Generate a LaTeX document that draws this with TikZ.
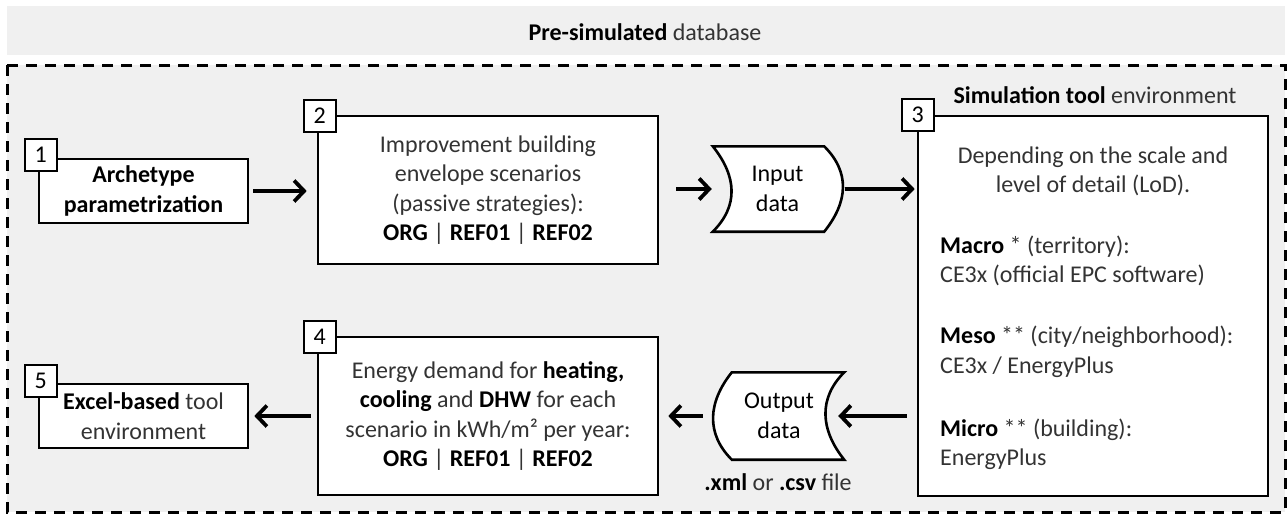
\documentclass[tikz,border=0pt]{standalone}
\usepackage{fontspec}
\setmainfont{Carlito}
\usetikzlibrary{arrows.meta}
\definecolor{panel}{HTML}{F0F0F0}
\definecolor{txt}{HTML}{333333}
\newcommand\hb[1]{\textbf{\color{black}#1}}
\pgfdeclarelayer{bg}
\pgfdeclarelayer{mid}
\pgfsetlayers{bg,mid,main}
\begin{document}
\begin{tikzpicture}[x=1pt,y=-1pt,
  every node/.style={font=\fontsize{24}{29.5}\selectfont, text=txt},
  box/.style={draw, line width=2.6pt, fill=white, inner sep=0pt, align=center},
  tag/.style={draw, line width=2pt, fill=white, minimum size=32pt, inner sep=0pt, text=black},
  datashape/.style={draw, line width=2.6pt, fill=white},
  datatext/.style={inner sep=0pt, align=center, text=black},
  arr/.style={line width=3.8pt, -{Straight Barb[length=10pt,width=21pt]}},
  frame/.style={draw, line width=3pt, dash pattern=on 11pt off 8pt, fill=panel}]
\useasboundingbox (0,0) rectangle (1288,515);

% grey header band and dashed database frame
\begin{pgfonlayer}{bg}
  \fill[white] (0,0) rectangle (1288,515);
  \fill[panel] (7,6) rectangle (1285,55);
  \path[frame] (7,65) rectangle (1285,512);
\end{pgfonlayer}
\node (title) at (645,32) {\hb{Pre-simulated} database};

% process boxes
\node[box, minimum width=209pt, minimum height=64pt] (b1) at (143.5,191)
  {\hb{Archetype}\\\hb{parametrization}};
\node[box, minimum width=340pt, minimum height=148pt] (b2) at (488,190)
  {Improvement building\\envelope scenarios\\(passive strategies):\\\hb{ORG} | \hb{REF01} | \hb{REF02}};
\node[box, minimum width=350pt, minimum height=380pt] (b3) at (1093,306) {};
\node[box, minimum width=340pt, minimum height=158pt] (b4) at (488,416)
  {Energy demand for \hb{heating,}\\\hb{cooling} and \hb{DHW} for each\\scenario in kWh/m² per year:\\\hb{ORG} | \hb{REF01} | \hb{REF02}};
\node[box, minimum width=209pt, minimum height=64pt] (b5) at (143.5,416)
  {\hb{Excel-based} tool\\environment};

% numbered tags on the box corners
\node[tag] (t1) at ([shift={(3,-3)}]b1.north west) {1};
\node[tag] (t2) at ([shift={(3,1)}]b2.north west) {2};
\node[tag] (t3) at ([shift={(1,0)}]b3.north west) {3};
\node[tag] (t4) at ([shift={(3,1)}]b4.north west) {4};
\node[tag] (t5) at ([shift={(3,-2)}]b5.north west) {5};

% simulation environment contents
\node (simtitle) at (1095,95) {\hb{Simulation tool} environment};
\node[align=center] (lod) at (1093,171.5) {Depending on the scale and\\level of detail (LoD).};
\node[anchor=west, align=left, inner sep=0pt] (macro) at (940,261)
  {\hb{Macro} * (territory):\\CE3x (official EPC software)};
\node[anchor=west, align=left, inner sep=0pt] (meso) at (940,352)
  {\hb{Meso} ** (city/neighborhood):\\CE3x / EnergyPlus};
\node[anchor=west, align=left, inner sep=0pt] (micro) at (940,444.5)
  {\hb{Micro} ** (building):\\EnergyPlus};

% stored-data symbols
\node[datatext, minimum width=93pt, minimum height=85pt] (in) at (777.5,189) {Input\\data};
\node[datatext, minimum width=94pt, minimum height=87pt] (out) at (779,416) {Output\\data};
\begin{pgfonlayer}{mid}
  \draw[datashape] ([xshift=-18pt]in.north west) -- (in.north east)
    .. controls +(26,26) and +(24,-30) .. (in.south east)
    -- ([xshift=-18pt]in.south west)
    .. controls +(26,-26) and +(24,30) .. ([xshift=-18pt]in.north west) -- cycle;
  \draw[datashape] (out.north west) -- ([xshift=18pt]out.north east)
    .. controls +(-26,26) and +(-24,-30) .. ([xshift=18pt]out.south east)
    -- (out.south west)
    .. controls +(-26,-26) and +(-24,30) .. (out.north west) -- cycle;
\end{pgfonlayer}
\node (fmt) at (778,482) {\hb{.xml} or \hb{.csv} file};

% flow arrows
\draw[arr] ([xshift=4pt]b1.east) -- ([xshift=-10pt]b1.east -| b2.west);
\draw[arr] ([xshift=17pt]b2.east |- in.west) -- ([xshift=-19pt]in.west);
\draw[arr] ([xshift=21pt]in.east) -- ([xshift=-2pt]in.east -| b3.west);
\draw[arr] ([xshift=-10pt]b3.west |- out.east) -- ([xshift=12pt]out.east);
\draw[arr] ([xshift=-29pt]out.west) -- ([xshift=9pt]out.west -| b4.east);
\draw[arr] ([xshift=-6pt]b4.west) -- ([xshift=5pt]b4.west -| b5.east);
\end{tikzpicture}
\end{document}
